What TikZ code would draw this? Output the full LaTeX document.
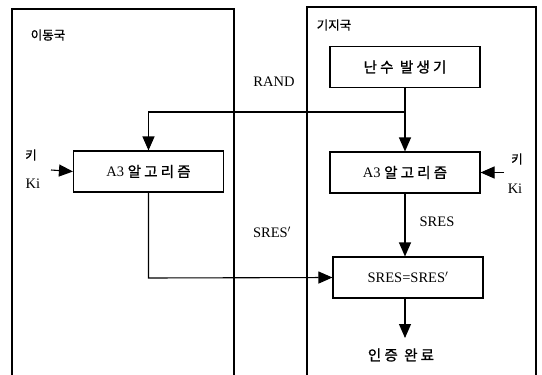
\documentclass[tikz,border=0pt]{standalone}
\usepackage{fontspec}
\setmainfont{Liberation Serif}
\newfontfamily\kr[FakeBold=1]{Noto Sans CJK KR}
\newfontfamily\krw[FakeBold=1.2,LetterSpace=22]{Noto Sans CJK KR}
\usetikzlibrary{arrows.meta}
\begin{document}
\begin{tikzpicture}[x=1pt,y=-1pt,
  every node/.style={font=\fontsize{14.5}{17}\selectfont},
  lbl/.style={font=\kr\fontsize{12.5}{14}\selectfont},
  wide/.style={font=\krw\fontsize{14.5}{17}\selectfont},
  blk/.style={draw,line width=1.1pt,minimum width=150pt,minimum height=41pt,inner sep=0pt},
  frame/.style={line width=1.1pt},
  wire/.style={line width=1.1pt},
  arr/.style={wire,-{Triangle[length=14pt,width=12pt]}}]
\useasboundingbox (0,0) rectangle (542,375);
\fill[white] (0,0) rectangle (542,375);
% station frames (open at the bottom)
\draw[frame] (12,380) -- (12,9) -- (234,9) -- (234,380);
\draw[frame] (307,380) -- (307,7) -- (536,7) -- (536,380);
\node[lbl] (ms) at (48,35) {이동국};
\node[lbl] (bs) at (334,25) {기지국};
% blocks
\node[blk,wide] (rng) at (405,67) {난수 발생기};
\node[blk] (a3r) at (405,172.5) {A3 {\krw 알고리즘}};
\node[blk] (a3l) at (148.5,171.5) {A3 {\krw 알고리즘}};
\node[blk] (cmp) at (408,277.5) {SRES=SRES$'$};
\node[wide] (done) at (401,355) {인증 완료};
\coordinate (j) at (405,112);
\coordinate (jl) at (148.5,112);
\coordinate (jd) at (148.5,278);
\coordinate (dn) at (405,338);
% RAND distribution
\draw[arr] (rng.south) -- (a3r.north);
\draw[arr] (j) -- (jl) -- (a3l.north);
\node (rand) at (274,82) {RAND};
% keys
\node[lbl] (kl1) at (31,155) {키};
\node (kl2) at (33,184) {Ki};
\coordinate (klt) at (51,170);
\draw[arr] (klt) -- (a3l.west);
\node[lbl] (kr1) at (517,159) {키};
\node (kr2) at (515,189) {Ki};
\coordinate (krt) at (504,172.5);
\draw[arr] (krt) -- (a3r.east);
% responses
\draw[arr] (a3r.south) -- (a3r.south |- cmp.north);
\node (sres) at (437,222) {SRES};
\draw[arr] (a3l.south) -- (jd) -- (cmp.west);
\node (sresp) at (272,232) {SRES$'$};
\draw[arr] (cmp.south -| a3r.south) -- (dn);
\end{tikzpicture}
\end{document}
